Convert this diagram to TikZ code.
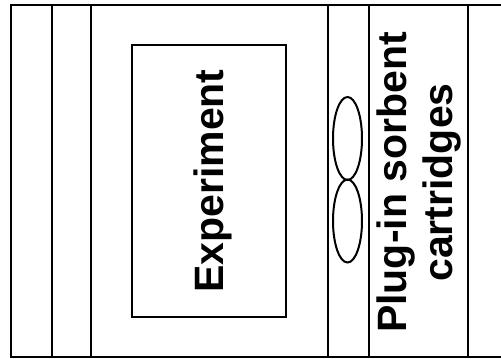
\documentclass[tikz,border=0pt]{standalone}
\usepackage{fontspec}
\setmainfont{Liberation Sans}
\begin{document}
\begin{tikzpicture}[x=1pt,y=-1pt,
  frame/.style={line width=2.2pt,line cap=rect},
  lbl/.style={font=\bfseries\fontsize{41}{46}\selectfont,rotate=90,anchor=base,inner sep=0pt}]
\useasboundingbox (0,0) rectangle (501,359);
% outer frame (open on the right)
\draw[frame] (501,5) -- (11,5) -- (11,357) -- (501,357);
\foreach \x in {52,91,328,369,468}
  \draw[frame] (\x,5) -- (\x,357);
% experiment box
\draw[frame,line width=2.6pt] (132,45) rectangle (286,317);
\node[lbl] (exp) at (223,181) {Experiment};
% sorbent cartridges
\draw[line width=2pt] (347.5,138.5) ellipse [x radius=14.5, y radius=41.5];
\draw[line width=2pt] (347.5,221) ellipse [x radius=14.5, y radius=41.5];
\node[lbl] (plug) at (406,182.5) {Plug-in sorbent};
\node[lbl] (cart) at (452,182.5) {cartridges};
\end{tikzpicture}
\end{document}
